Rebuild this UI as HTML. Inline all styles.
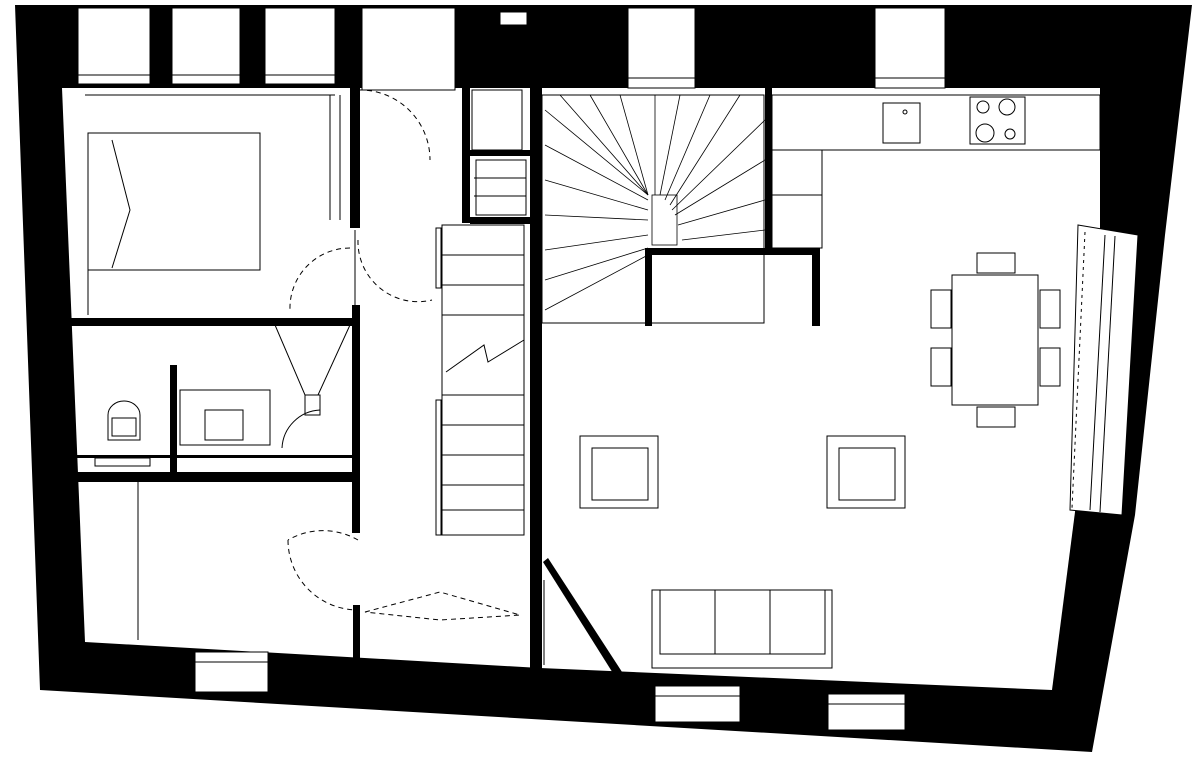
<!DOCTYPE html>
<html><head><meta charset="utf-8"><style>html,body{margin:0;padding:0;background:#fff}svg{display:block}</style></head><body>
<svg width="1200" height="758" viewBox="0 0 1200 758" xmlns="http://www.w3.org/2000/svg">
<polygon points="15,5 1192,5 1165,235 1135,515 1092,752 40,690" fill="#000"/>
<polygon points="62,88 1100,88 1100,228 1075,512 1052,690 540,668 85,642" fill="#fff"/>
<g fill="#fff" stroke="#000" stroke-width="1">
<rect x="78" y="8" width="72" height="76"/><rect x="172" y="8" width="68" height="76"/><rect x="265" y="8" width="70" height="76"/>
<rect x="628" y="8" width="67" height="80"/><rect x="875" y="8" width="70" height="80"/>
<rect x="362" y="8" width="93" height="82"/>
<rect x="500" y="12" width="27" height="13"/>
<rect x="195" y="652" width="73" height="40"/><rect x="655" y="686" width="85" height="36"/><rect x="828" y="694" width="77" height="36"/>
<polygon points="1078,225 1138,235 1122,515 1070,510"/>
</g>
<g stroke="#000" stroke-width="1" fill="none">
<line x1="78" y1="75" x2="150" y2="75"/><line x1="172" y1="75" x2="240" y2="75"/><line x1="265" y1="75" x2="335" y2="75"/>
<line x1="628" y1="78" x2="695" y2="78"/><line x1="875" y1="78" x2="945" y2="78"/>
<line x1="195" y1="662" x2="268" y2="662"/><line x1="655" y1="696" x2="740" y2="696"/><line x1="828" y1="704" x2="905" y2="704"/>
<line x1="1105" y1="235" x2="1090" y2="510"/><line x1="1115" y1="236" x2="1100" y2="512"/>
<line x1="1085" y1="232" x2="1072" y2="508" stroke-dasharray="3,4"/>
</g>
<g fill="#000">
<rect x="530" y="88" width="12" height="582"/>
<rect x="68" y="318" width="290" height="8"/>
<rect x="68" y="472" width="292" height="10"/>
<rect x="350" y="88" width="10" height="140"/>
<rect x="352" y="305" width="8" height="170"/>
<rect x="352" y="478" width="8" height="55"/>
<rect x="353" y="605" width="7" height="55"/>
<rect x="462" y="88" width="8" height="135"/>
<rect x="470" y="150" width="60" height="6"/>
<rect x="470" y="217" width="60" height="7"/>
<rect x="645" y="248" width="175" height="7"/>
<rect x="645" y="248" width="7" height="78"/>
<rect x="812" y="248" width="8" height="78"/>
<rect x="765" y="88" width="7" height="160"/>
<rect x="170" y="365" width="7" height="110"/>
<rect x="75" y="455" width="280" height="3"/>
<polygon points="543,562 548,558 624,675 616,678"/>
</g>
<g stroke="#000" stroke-width="1" fill="none">
<rect x="88" y="133" width="172" height="137"/><polyline points="112,140 130,210 112,268"/><line x1="88" y1="270" x2="88" y2="315"/>
<line x1="85" y1="95" x2="335" y2="95"/>
<line x1="330" y1="95" x2="330" y2="220"/><line x1="340" y1="95" x2="340" y2="220"/>
<line x1="355" y1="230" x2="355" y2="305"/>
<path d="M358,90 A70,70 0 0 1 430,160" stroke-dasharray="5,4"/>
<path d="M358,240 A60,60 0 0 0 432,300" stroke-dasharray="5,4"/>
<path d="M350,248 A60,60 0 0 0 290,310" stroke-dasharray="5,4"/>
<path d="M358,540 A70,70 0 0 0 288,540" stroke-dasharray="5,4"/>
<path d="M288,540 A70,70 0 0 0 358,610" stroke-dasharray="5,4"/>
<polygon points="365,612 440,592 520,615 440,620" stroke-dasharray="5,4"/>
<rect x="442" y="225" width="82" height="310"/>
<line x1="442" y1="255" x2="524" y2="255"/><line x1="442" y1="285" x2="524" y2="285"/><line x1="442" y1="315" x2="524" y2="315"/>
<line x1="442" y1="395" x2="524" y2="395"/><line x1="442" y1="425" x2="524" y2="425"/><line x1="442" y1="455" x2="524" y2="455"/><line x1="442" y1="485" x2="524" y2="485"/><line x1="442" y1="510" x2="524" y2="510"/>
<polyline points="446,372 484,345 488,362 524,340"/>
<rect x="436" y="228" width="5" height="60"/><rect x="436" y="400" width="5" height="135"/>
<rect x="472" y="90" width="50" height="60"/><rect x="476" y="160" width="50" height="55"/>
<line x1="474" y1="178" x2="526" y2="178"/><line x1="474" y1="196" x2="526" y2="196"/>
<rect x="542" y="95" width="222" height="228"/>
<g stroke-width="0.8">
<line x1="545" y1="110" x2="648" y2="195"/><line x1="560" y1="95" x2="648" y2="195"/><line x1="590" y1="95" x2="648" y2="195"/><line x1="620" y1="95" x2="648" y2="195"/>
<line x1="545" y1="145" x2="648" y2="200"/><line x1="545" y1="180" x2="648" y2="210"/><line x1="545" y1="215" x2="648" y2="220"/><line x1="545" y1="250" x2="648" y2="235"/><line x1="545" y1="280" x2="648" y2="248"/><line x1="545" y1="310" x2="648" y2="255"/>
<line x1="655" y1="95" x2="655" y2="195"/><line x1="680" y1="95" x2="660" y2="195"/><line x1="710" y1="95" x2="665" y2="200"/><line x1="740" y1="95" x2="670" y2="205"/>
<line x1="765" y1="120" x2="672" y2="210"/><line x1="765" y1="160" x2="675" y2="215"/><line x1="765" y1="200" x2="678" y2="225"/><line x1="765" y1="230" x2="682" y2="240"/>
<rect x="652" y="195" width="25" height="50"/>
</g>
<rect x="772" y="95" width="328" height="55"/><rect x="772" y="150" width="50" height="98"/><line x1="772" y1="195" x2="822" y2="195"/>
<rect x="883" y="103" width="37" height="40"/><circle cx="905" cy="112" r="2"/>
<rect x="970" y="97" width="55" height="47"/><circle cx="983" cy="107" r="6"/><circle cx="1007" cy="107" r="8"/><circle cx="985" cy="133" r="9"/><circle cx="1010" cy="134" r="5"/>
<rect x="952" y="275" width="86" height="130"/>
<rect x="977" y="253" width="38" height="20"/><rect x="977" y="407" width="38" height="20"/>
<rect x="931" y="290" width="20" height="38"/><rect x="931" y="348" width="20" height="38"/>
<rect x="1040" y="290" width="20" height="38"/><rect x="1040" y="348" width="20" height="38"/>
<rect x="580" y="436" width="78" height="72"/><rect x="592" y="448" width="56" height="52"/>
<rect x="827" y="436" width="78" height="72"/><rect x="839" y="448" width="56" height="52"/>
<rect x="652" y="590" width="180" height="78"/><rect x="660" y="590" width="165" height="64"/><line x1="715" y1="590" x2="715" y2="654"/><line x1="770" y1="590" x2="770" y2="654"/>
<path d="M108,440 L108,415 A16,14 0 0 1 140,415 L140,440 Z"/><rect x="112" y="418" width="24" height="18"/>
<rect x="95" y="458" width="55" height="8"/>
<rect x="180" y="390" width="90" height="55"/><rect x="205" y="410" width="38" height="30"/>
<polygon points="275,325 350,325 318,395 305,395"/><rect x="305" y="395" width="15" height="20"/><path d="M282,448 A40,40 0 0 1 320,410"/>
<line x1="180" y1="320" x2="220" y2="320" stroke-width="3"/>
<line x1="138" y1="482" x2="138" y2="640"/>
<line x1="544" y1="580" x2="544" y2="665"/>
</g>
</svg>
</body></html>
